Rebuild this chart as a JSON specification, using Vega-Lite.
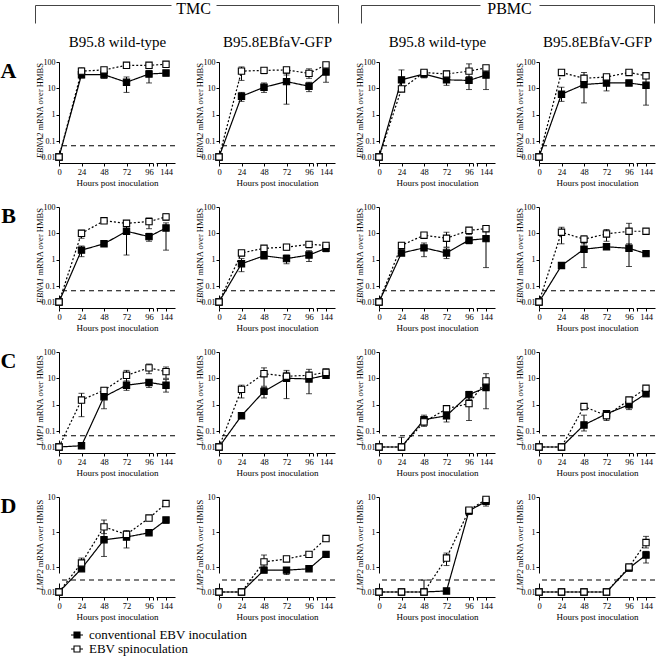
{
"$schema": "https://vega.github.io/schema/vega-lite/v6.json",
"padding": 0,
"data": {"values": [
{"p":"A1","s":"conventional EBV inoculation","h":0,"v":0.01},
{"p":"A1","s":"conventional EBV inoculation","h":24,"v":33,"lo":25,"hi":42},
{"p":"A1","s":"conventional EBV inoculation","h":48,"v":33,"lo":24,"hi":45},
{"p":"A1","s":"conventional EBV inoculation","h":72,"v":17,"lo":7,"hi":27},
{"p":"A1","s":"conventional EBV inoculation","h":96,"v":35,"lo":16,"hi":48},
{"p":"A1","s":"conventional EBV inoculation","h":144,"v":38,"lo":30,"hi":48},
{"p":"A1","s":"EBV spinoculation","h":0,"v":0.01},
{"p":"A1","s":"EBV spinoculation","h":24,"v":45,"lo":35,"hi":60},
{"p":"A1","s":"EBV spinoculation","h":48,"v":50,"lo":42,"hi":58},
{"p":"A1","s":"EBV spinoculation","h":72,"v":75,"lo":62,"hi":90},
{"p":"A1","s":"EBV spinoculation","h":96,"v":75,"lo":60,"hi":88},
{"p":"A1","s":"EBV spinoculation","h":144,"v":82},
{"p":"A2","s":"conventional EBV inoculation","h":0,"v":0.01},
{"p":"A2","s":"conventional EBV inoculation","h":24,"v":5,"lo":3.2,"hi":7},
{"p":"A2","s":"conventional EBV inoculation","h":48,"v":11,"lo":7,"hi":16},
{"p":"A2","s":"conventional EBV inoculation","h":72,"v":18,"lo":2.5,"hi":38},
{"p":"A2","s":"conventional EBV inoculation","h":96,"v":12,"lo":7.5,"hi":17},
{"p":"A2","s":"conventional EBV inoculation","h":144,"v":42,"lo":17,"hi":62},
{"p":"A2","s":"EBV spinoculation","h":0,"v":0.01},
{"p":"A2","s":"EBV spinoculation","h":24,"v":45,"lo":20,"hi":65},
{"p":"A2","s":"EBV spinoculation","h":48,"v":48,"lo":36,"hi":56},
{"p":"A2","s":"EBV spinoculation","h":72,"v":50,"lo":32,"hi":62},
{"p":"A2","s":"EBV spinoculation","h":96,"v":37,"lo":24,"hi":55},
{"p":"A2","s":"EBV spinoculation","h":144,"v":78},
{"p":"A3","s":"conventional EBV inoculation","h":0,"v":0.01},
{"p":"A3","s":"conventional EBV inoculation","h":24,"v":21,"lo":10,"hi":50},
{"p":"A3","s":"conventional EBV inoculation","h":48,"v":35,"lo":25,"hi":45},
{"p":"A3","s":"conventional EBV inoculation","h":72,"v":21,"lo":13,"hi":28},
{"p":"A3","s":"conventional EBV inoculation","h":96,"v":20,"lo":9,"hi":28},
{"p":"A3","s":"conventional EBV inoculation","h":144,"v":32,"lo":9,"hi":55},
{"p":"A3","s":"EBV spinoculation","h":0,"v":0.01},
{"p":"A3","s":"EBV spinoculation","h":24,"v":9.5},
{"p":"A3","s":"EBV spinoculation","h":48,"v":40,"lo":30,"hi":45},
{"p":"A3","s":"EBV spinoculation","h":72,"v":35,"lo":28,"hi":45},
{"p":"A3","s":"EBV spinoculation","h":96,"v":45,"lo":20,"hi":85},
{"p":"A3","s":"EBV spinoculation","h":144,"v":60},
{"p":"A4","s":"conventional EBV inoculation","h":0,"v":0.01},
{"p":"A4","s":"conventional EBV inoculation","h":24,"v":6,"lo":3.2,"hi":11},
{"p":"A4","s":"conventional EBV inoculation","h":48,"v":14,"lo":2.8,"hi":40},
{"p":"A4","s":"conventional EBV inoculation","h":72,"v":16,"lo":8,"hi":24},
{"p":"A4","s":"conventional EBV inoculation","h":96,"v":16},
{"p":"A4","s":"conventional EBV inoculation","h":144,"v":13,"lo":2.3,"hi":24},
{"p":"A4","s":"EBV spinoculation","h":0,"v":0.01},
{"p":"A4","s":"EBV spinoculation","h":24,"v":40},
{"p":"A4","s":"EBV spinoculation","h":48,"v":24,"lo":15,"hi":30},
{"p":"A4","s":"EBV spinoculation","h":72,"v":27,"lo":20,"hi":32},
{"p":"A4","s":"EBV spinoculation","h":96,"v":40},
{"p":"A4","s":"EBV spinoculation","h":144,"v":30},
{"p":"B1","s":"conventional EBV inoculation","h":0,"v":0.01},
{"p":"B1","s":"conventional EBV inoculation","h":24,"v":2.3,"lo":1.3,"hi":3.3},
{"p":"B1","s":"conventional EBV inoculation","h":48,"v":4},
{"p":"B1","s":"conventional EBV inoculation","h":72,"v":12,"lo":1.5,"hi":20},
{"p":"B1","s":"conventional EBV inoculation","h":96,"v":7.5,"lo":5,"hi":10},
{"p":"B1","s":"conventional EBV inoculation","h":144,"v":16,"lo":2.3,"hi":25},
{"p":"B1","s":"EBV spinoculation","h":0,"v":0.01},
{"p":"B1","s":"EBV spinoculation","h":24,"v":10,"lo":6.5,"hi":13},
{"p":"B1","s":"EBV spinoculation","h":48,"v":30},
{"p":"B1","s":"EBV spinoculation","h":72,"v":24},
{"p":"B1","s":"EBV spinoculation","h":96,"v":28,"lo":15,"hi":38},
{"p":"B1","s":"EBV spinoculation","h":144,"v":42,"lo":32,"hi":55},
{"p":"B2","s":"conventional EBV inoculation","h":0,"v":0.01},
{"p":"B2","s":"conventional EBV inoculation","h":24,"v":0.7,"lo":0.35,"hi":1.1},
{"p":"B2","s":"conventional EBV inoculation","h":48,"v":1.4,"lo":1.1,"hi":1.8},
{"p":"B2","s":"conventional EBV inoculation","h":72,"v":1.1,"lo":0.7,"hi":1.5},
{"p":"B2","s":"conventional EBV inoculation","h":96,"v":1.5,"lo":0.85,"hi":2.2},
{"p":"B2","s":"conventional EBV inoculation","h":144,"v":2.7,"lo":2,"hi":3.5},
{"p":"B2","s":"EBV spinoculation","h":0,"v":0.01},
{"p":"B2","s":"EBV spinoculation","h":24,"v":1.8,"lo":1.4,"hi":2.2},
{"p":"B2","s":"EBV spinoculation","h":48,"v":2.7,"lo":2.3,"hi":3.2},
{"p":"B2","s":"EBV spinoculation","h":72,"v":3,"lo":2.3,"hi":3.8},
{"p":"B2","s":"EBV spinoculation","h":96,"v":3.8,"lo":2.8,"hi":4.8},
{"p":"B2","s":"EBV spinoculation","h":144,"v":3.5,"lo":3,"hi":4.2},
{"p":"B3","s":"conventional EBV inoculation","h":0,"v":0.01},
{"p":"B3","s":"conventional EBV inoculation","h":24,"v":1.8},
{"p":"B3","s":"conventional EBV inoculation","h":48,"v":2.8,"lo":1.3,"hi":4.3},
{"p":"B3","s":"conventional EBV inoculation","h":72,"v":1.8,"lo":1.1,"hi":2.8},
{"p":"B3","s":"conventional EBV inoculation","h":96,"v":5.5,"lo":4,"hi":7},
{"p":"B3","s":"conventional EBV inoculation","h":144,"v":6.3,"lo":0.5,"hi":12},
{"p":"B3","s":"EBV spinoculation","h":0,"v":0.01},
{"p":"B3","s":"EBV spinoculation","h":24,"v":3.5,"lo":2.6,"hi":4.5},
{"p":"B3","s":"EBV spinoculation","h":48,"v":8.5,"lo":6.5,"hi":10},
{"p":"B3","s":"EBV spinoculation","h":72,"v":6.5,"lo":3,"hi":11},
{"p":"B3","s":"EBV spinoculation","h":96,"v":13,"lo":9,"hi":16},
{"p":"B3","s":"EBV spinoculation","h":144,"v":15},
{"p":"B4","s":"conventional EBV inoculation","h":0,"v":0.01},
{"p":"B4","s":"conventional EBV inoculation","h":24,"v":0.6},
{"p":"B4","s":"conventional EBV inoculation","h":48,"v":2.5,"lo":0.5,"hi":5},
{"p":"B4","s":"conventional EBV inoculation","h":72,"v":3.1,"lo":2.5,"hi":3.6},
{"p":"B4","s":"conventional EBV inoculation","h":96,"v":2.7,"lo":0.55,"hi":4},
{"p":"B4","s":"conventional EBV inoculation","h":144,"v":1.7},
{"p":"B4","s":"EBV spinoculation","h":0,"v":0.01},
{"p":"B4","s":"EBV spinoculation","h":24,"v":11,"lo":4,"hi":17},
{"p":"B4","s":"EBV spinoculation","h":48,"v":6,"lo":4,"hi":8},
{"p":"B4","s":"EBV spinoculation","h":72,"v":9.5,"lo":5,"hi":14},
{"p":"B4","s":"EBV spinoculation","h":96,"v":12,"lo":3,"hi":24},
{"p":"B4","s":"EBV spinoculation","h":144,"v":12},
{"p":"C1","s":"conventional EBV inoculation","h":0,"v":0.01},
{"p":"C1","s":"conventional EBV inoculation","h":24,"v":0.012},
{"p":"C1","s":"conventional EBV inoculation","h":48,"v":2,"lo":0.7,"hi":3},
{"p":"C1","s":"conventional EBV inoculation","h":72,"v":5.5,"lo":3.5,"hi":8},
{"p":"C1","s":"conventional EBV inoculation","h":96,"v":7,"lo":4.5,"hi":9},
{"p":"C1","s":"conventional EBV inoculation","h":144,"v":5.5,"lo":3,"hi":9},
{"p":"C1","s":"EBV spinoculation","h":0,"v":0.01},
{"p":"C1","s":"EBV spinoculation","h":24,"v":1.5,"lo":0.35,"hi":2.7},
{"p":"C1","s":"EBV spinoculation","h":48,"v":3.5,"lo":2.5,"hi":4.5},
{"p":"C1","s":"EBV spinoculation","h":72,"v":13,"lo":7,"hi":20},
{"p":"C1","s":"EBV spinoculation","h":96,"v":25,"lo":15,"hi":35},
{"p":"C1","s":"EBV spinoculation","h":144,"v":18,"lo":10,"hi":27},
{"p":"C2","s":"conventional EBV inoculation","h":0,"v":0.01},
{"p":"C2","s":"conventional EBV inoculation","h":24,"v":0.38},
{"p":"C2","s":"conventional EBV inoculation","h":48,"v":3.2,"lo":1.8,"hi":4.5},
{"p":"C2","s":"conventional EBV inoculation","h":72,"v":10,"lo":1.7,"hi":17},
{"p":"C2","s":"conventional EBV inoculation","h":96,"v":9.5,"lo":2.6,"hi":15},
{"p":"C2","s":"conventional EBV inoculation","h":144,"v":13,"lo":11,"hi":16},
{"p":"C2","s":"EBV spinoculation","h":0,"v":0.01},
{"p":"C2","s":"EBV spinoculation","h":24,"v":3.8,"lo":1.8,"hi":5.5},
{"p":"C2","s":"EBV spinoculation","h":48,"v":15,"lo":5,"hi":25},
{"p":"C2","s":"EBV spinoculation","h":72,"v":12,"lo":8,"hi":20},
{"p":"C2","s":"EBV spinoculation","h":96,"v":13,"lo":10,"hi":22},
{"p":"C2","s":"EBV spinoculation","h":144,"v":17,"lo":14,"hi":23},
{"p":"C3","s":"conventional EBV inoculation","h":0,"v":0.01},
{"p":"C3","s":"conventional EBV inoculation","h":24,"v":0.01},
{"p":"C3","s":"conventional EBV inoculation","h":48,"v":0.27,"lo":0.18,"hi":0.35},
{"p":"C3","s":"conventional EBV inoculation","h":72,"v":0.38,"lo":0.22,"hi":0.5},
{"p":"C3","s":"conventional EBV inoculation","h":96,"v":2.4,"lo":1.6,"hi":3.2},
{"p":"C3","s":"conventional EBV inoculation","h":144,"v":4.5,"lo":0.7,"hi":10},
{"p":"C3","s":"EBV spinoculation","h":0,"v":0.01},
{"p":"C3","s":"EBV spinoculation","h":24,"v":0.01,"lo":0.01,"hi":0.04},
{"p":"C3","s":"EBV spinoculation","h":48,"v":0.22,"lo":0.15,"hi":0.4},
{"p":"C3","s":"EBV spinoculation","h":72,"v":0.7},
{"p":"C3","s":"EBV spinoculation","h":96,"v":1.1,"lo":0.25,"hi":2.5},
{"p":"C3","s":"EBV spinoculation","h":144,"v":8,"lo":5,"hi":15},
{"p":"C4","s":"conventional EBV inoculation","h":0,"v":0.01},
{"p":"C4","s":"conventional EBV inoculation","h":24,"v":0.01},
{"p":"C4","s":"conventional EBV inoculation","h":48,"v":0.17,"lo":0.1,"hi":0.4},
{"p":"C4","s":"conventional EBV inoculation","h":72,"v":0.45,"lo":0.3,"hi":0.55},
{"p":"C4","s":"conventional EBV inoculation","h":96,"v":1,"lo":0.65,"hi":1.4},
{"p":"C4","s":"conventional EBV inoculation","h":144,"v":2.6},
{"p":"C4","s":"EBV spinoculation","h":0,"v":0.01},
{"p":"C4","s":"EBV spinoculation","h":24,"v":0.01},
{"p":"C4","s":"EBV spinoculation","h":48,"v":0.85},
{"p":"C4","s":"EBV spinoculation","h":72,"v":0.38,"lo":0.25,"hi":0.5},
{"p":"C4","s":"EBV spinoculation","h":96,"v":1.5},
{"p":"C4","s":"EBV spinoculation","h":144,"v":4.2},
{"p":"D1","s":"conventional EBV inoculation","h":0,"v":0.01},
{"p":"D1","s":"conventional EBV inoculation","h":24,"v":0.085,"lo":0.07,"hi":0.1},
{"p":"D1","s":"conventional EBV inoculation","h":48,"v":0.6,"lo":0.2,"hi":1.3},
{"p":"D1","s":"conventional EBV inoculation","h":72,"v":0.72,"lo":0.35,"hi":1},
{"p":"D1","s":"conventional EBV inoculation","h":96,"v":0.95},
{"p":"D1","s":"conventional EBV inoculation","h":144,"v":2.2,"lo":1.8,"hi":2.6},
{"p":"D1","s":"EBV spinoculation","h":0,"v":0.01},
{"p":"D1","s":"EBV spinoculation","h":24,"v":0.13,"lo":0.09,"hi":0.18},
{"p":"D1","s":"EBV spinoculation","h":48,"v":1.4,"lo":0.9,"hi":2.2},
{"p":"D1","s":"EBV spinoculation","h":72,"v":0.85,"lo":0.7,"hi":1.1},
{"p":"D1","s":"EBV spinoculation","h":96,"v":2.5},
{"p":"D1","s":"EBV spinoculation","h":144,"v":6.5,"lo":5.5,"hi":7.5},
{"p":"D2","s":"conventional EBV inoculation","h":0,"v":0.01},
{"p":"D2","s":"conventional EBV inoculation","h":24,"v":0.01},
{"p":"D2","s":"conventional EBV inoculation","h":48,"v":0.075,"lo":0.06,"hi":0.09},
{"p":"D2","s":"conventional EBV inoculation","h":72,"v":0.075,"lo":0.05,"hi":0.09},
{"p":"D2","s":"conventional EBV inoculation","h":96,"v":0.085},
{"p":"D2","s":"conventional EBV inoculation","h":144,"v":0.23,"lo":0.2,"hi":0.27},
{"p":"D2","s":"EBV spinoculation","h":0,"v":0.01},
{"p":"D2","s":"EBV spinoculation","h":24,"v":0.01},
{"p":"D2","s":"EBV spinoculation","h":48,"v":0.14,"lo":0.1,"hi":0.22},
{"p":"D2","s":"EBV spinoculation","h":72,"v":0.17},
{"p":"D2","s":"EBV spinoculation","h":96,"v":0.23},
{"p":"D2","s":"EBV spinoculation","h":144,"v":0.65,"lo":0.55,"hi":0.75},
{"p":"D3","s":"conventional EBV inoculation","h":0,"v":0.01},
{"p":"D3","s":"conventional EBV inoculation","h":24,"v":0.01},
{"p":"D3","s":"conventional EBV inoculation","h":48,"v":0.01},
{"p":"D3","s":"conventional EBV inoculation","h":72,"v":0.011},
{"p":"D3","s":"conventional EBV inoculation","h":96,"v":4,"lo":3.2,"hi":5},
{"p":"D3","s":"conventional EBV inoculation","h":144,"v":7.5,"lo":5.5,"hi":9},
{"p":"D3","s":"EBV spinoculation","h":0,"v":0.01},
{"p":"D3","s":"EBV spinoculation","h":24,"v":0.01},
{"p":"D3","s":"EBV spinoculation","h":48,"v":0.01,"lo":0.01,"hi":0.03},
{"p":"D3","s":"EBV spinoculation","h":72,"v":0.18,"lo":0.11,"hi":0.25},
{"p":"D3","s":"EBV spinoculation","h":96,"v":4.2},
{"p":"D3","s":"EBV spinoculation","h":144,"v":8.5},
{"p":"D4","s":"conventional EBV inoculation","h":0,"v":0.01},
{"p":"D4","s":"conventional EBV inoculation","h":24,"v":0.01},
{"p":"D4","s":"conventional EBV inoculation","h":48,"v":0.01},
{"p":"D4","s":"conventional EBV inoculation","h":72,"v":0.01},
{"p":"D4","s":"conventional EBV inoculation","h":96,"v":0.09,"lo":0.07,"hi":0.11},
{"p":"D4","s":"conventional EBV inoculation","h":144,"v":0.22,"lo":0.13,"hi":0.28},
{"p":"D4","s":"EBV spinoculation","h":0,"v":0.01},
{"p":"D4","s":"EBV spinoculation","h":24,"v":0.01},
{"p":"D4","s":"EBV spinoculation","h":48,"v":0.01},
{"p":"D4","s":"EBV spinoculation","h":72,"v":0.01},
{"p":"D4","s":"EBV spinoculation","h":96,"v":0.1},
{"p":"D4","s":"EBV spinoculation","h":144,"v":0.5,"lo":0.35,"hi":0.75}
]},
"columns": 4,
"spacing": {"row": 44, "column": 44},
"bounds": "flush",
"resolve": {"legend": {"fill": "independent"}},
"concat": [
{"width":116,"height":101,"transform":[{"filter":"datum.p == 'A1'"}],"resolve":{"scale":{"x":"independent","y":"independent"}},"layer":[
{"transform":[{"aggregate":[{"op":"count","as":"n"}]}],"mark":{"type":"rule","strokeDash":[5,4],"strokeWidth":1.1,"color":"black"},"encoding":{"y":{"datum":0.05,"type":"quantitative","scale":{"type":"log","domain":[0.006,0.01,0.1,100],"range":[101,95,79,0],"nice":false},"axis":null}}},
{"transform":[{"filter":"isValid(datum.lo)"}],"mark":{"type":"errorbar","color":"black","thickness":1,"ticks":{"size":6}},"encoding":{"x":{"field":"h","type":"quantitative","scale":{"type":"linear","domain":[0,96,144,169],"range":[0,90,107,116],"nice":false,"zero":false},"axis":null},"y":{"field":"lo","type":"quantitative","scale":{"type":"log","domain":[0.006,0.01,0.1,100],"range":[101,95,79,0],"nice":false},"axis":null},"y2":{"field":"hi"}}},
{"mark":{"type":"line","color":"black","strokeWidth":1.2},"encoding":{"x":{"field":"h","type":"quantitative","scale":{"type":"linear","domain":[0,96,144,169],"range":[0,90,107,116],"nice":false,"zero":false},"axis":null},"y":{"field":"v","type":"quantitative","scale":{"type":"log","domain":[0.006,0.01,0.1,100],"range":[101,95,79,0],"nice":false},"axis":null},"strokeDash":{"field":"s","type":"nominal","scale":{"domain":["conventional EBV inoculation","EBV spinoculation"],"range":[[1,0],[2,2]]},"legend":null}}},
{"mark":{"type":"point","shape":"square","size":40,"stroke":"black","strokeWidth":1.1,"opacity":1,"filled":true},"encoding":{"x":{"field":"h","type":"quantitative","scale":{"type":"linear","domain":[0,96,144,169],"range":[0,90,107,116],"nice":false,"zero":false},"axis":{"orient":"bottom","title":"Hours post inoculation","values":[0,24,48,72,96,107,119,144],"labelExpr":"datum.value == 107 || datum.value == 119 ? '' : datum.label","domainDash":[94,3,60],"tickSize":3,"labelFontSize":8.5,"labelPadding":1,"titleFontSize":9,"titlePadding":3,"labelFlush":false,"labelOverlap":false}},"y":{"field":"v","type":"quantitative","scale":{"type":"log","domain":[0.006,0.01,0.1,100],"range":[101,95,79,0],"nice":false},"axis":{"orient":"left","title":"mRNA over HMBS","titleX":-20,"titleY":68.1,"titleAngle":270,"titleAlign":"left","titleBaseline":"middle","values":[0.01,0.1,1,10,100],"labelExpr":"toString(datum.value)","domainDash":[13,7,200],"tickSize":3,"labelFontSize":8,"labelPadding":1,"titleFontSize":8.5,"labelOverlap":false,"labelFlush":false}},"fill":{"field":"s","type":"nominal","scale":{"domain":["conventional EBV inoculation","EBV spinoculation"],"range":["black","white"]},"legend":null}}},
{"transform":[{"aggregate":[{"op":"count","as":"n"}]}],"mark":{"type":"point","opacity":0},"encoding":{"x":{"datum":0,"type":"quantitative","scale":{"domain":[0,303],"range":[-24,279],"nice":false,"zero":false},"axis":{"orient":"bottom","offset":-158,"values":[0,82,242,303],"domainColor":"#444","domainDash":[136,45,400],"tickSize":18,"tickColor":{"condition":{"test":"datum.value == 0 || datum.value == 303","value":"#444"},"value":"transparent"},"labelExpr":"datum.value == 82 ? 'B95.8 wild-type' : datum.value == 242 ? 'B95.8EBfaV-GFP' : ''","labelFontSize":15,"labelPadding":11,"labelFlush":false,"labelOverlap":false,"labelBound":false,"title":"TMC","titleFontSize":16,"titleX":134,"titleY":3,"titleBaseline":"middle","titleAlign":"center","titleAngle":0}},"y":{"datum":0.5,"type":"quantitative","scale":{"domain":[0,1]},"axis":{"orient":"left","domain":false,"ticks":false,"labels":false,"title":"A","titleAngle":0,"titleFontSize":22,"titleFontWeight":"bold","titleX":-51,"titleY":8,"titleAlign":"center","titleBaseline":"middle"}}}},
{"transform":[{"aggregate":[{"op":"count","as":"n"}]}],"mark":{"type":"point","opacity":0},"encoding":{"x":{"datum":0,"type":"quantitative","scale":{"domain":[0,1]},"axis":null},"y":{"datum":0.5,"type":"quantitative","scale":{"domain":[0,1]},"axis":{"orient":"left","domain":false,"ticks":false,"labels":false,"title":"EBNA2","titleFontStyle":"italic","titleFontSize":8.5,"titleAngle":270,"titleAlign":"left","titleBaseline":"middle","titleX":-20,"titleY":95.75}}}}
]},
{"width":116,"height":101,"transform":[{"filter":"datum.p == 'A2'"}],"resolve":{"scale":{"x":"independent","y":"independent"}},"layer":[
{"transform":[{"aggregate":[{"op":"count","as":"n"}]}],"mark":{"type":"rule","strokeDash":[5,4],"strokeWidth":1.1,"color":"black"},"encoding":{"y":{"datum":0.05,"type":"quantitative","scale":{"type":"log","domain":[0.006,0.01,0.1,100],"range":[101,95,79,0],"nice":false},"axis":null}}},
{"transform":[{"filter":"isValid(datum.lo)"}],"mark":{"type":"errorbar","color":"black","thickness":1,"ticks":{"size":6}},"encoding":{"x":{"field":"h","type":"quantitative","scale":{"type":"linear","domain":[0,96,144,169],"range":[0,90,107,116],"nice":false,"zero":false},"axis":null},"y":{"field":"lo","type":"quantitative","scale":{"type":"log","domain":[0.006,0.01,0.1,100],"range":[101,95,79,0],"nice":false},"axis":null},"y2":{"field":"hi"}}},
{"mark":{"type":"line","color":"black","strokeWidth":1.2},"encoding":{"x":{"field":"h","type":"quantitative","scale":{"type":"linear","domain":[0,96,144,169],"range":[0,90,107,116],"nice":false,"zero":false},"axis":null},"y":{"field":"v","type":"quantitative","scale":{"type":"log","domain":[0.006,0.01,0.1,100],"range":[101,95,79,0],"nice":false},"axis":null},"strokeDash":{"field":"s","type":"nominal","scale":{"domain":["conventional EBV inoculation","EBV spinoculation"],"range":[[1,0],[2,2]]},"legend":null}}},
{"mark":{"type":"point","shape":"square","size":40,"stroke":"black","strokeWidth":1.1,"opacity":1,"filled":true},"encoding":{"x":{"field":"h","type":"quantitative","scale":{"type":"linear","domain":[0,96,144,169],"range":[0,90,107,116],"nice":false,"zero":false},"axis":{"orient":"bottom","title":"Hours post inoculation","values":[0,24,48,72,96,107,119,144],"labelExpr":"datum.value == 107 || datum.value == 119 ? '' : datum.label","domainDash":[94,3,60],"tickSize":3,"labelFontSize":8.5,"labelPadding":1,"titleFontSize":9,"titlePadding":3,"labelFlush":false,"labelOverlap":false}},"y":{"field":"v","type":"quantitative","scale":{"type":"log","domain":[0.006,0.01,0.1,100],"range":[101,95,79,0],"nice":false},"axis":{"orient":"left","title":"mRNA over HMBS","titleX":-20,"titleY":68.1,"titleAngle":270,"titleAlign":"left","titleBaseline":"middle","values":[0.01,0.1,1,10,100],"labelExpr":"toString(datum.value)","domainDash":[13,7,200],"tickSize":3,"labelFontSize":8,"labelPadding":1,"titleFontSize":8.5,"labelOverlap":false,"labelFlush":false}},"fill":{"field":"s","type":"nominal","scale":{"domain":["conventional EBV inoculation","EBV spinoculation"],"range":["black","white"]},"legend":null}}},
{"transform":[{"aggregate":[{"op":"count","as":"n"}]}],"mark":{"type":"point","opacity":0},"encoding":{"x":{"datum":0,"type":"quantitative","scale":{"domain":[0,1]},"axis":null},"y":{"datum":0.5,"type":"quantitative","scale":{"domain":[0,1]},"axis":{"orient":"left","domain":false,"ticks":false,"labels":false,"title":"EBNA2","titleFontStyle":"italic","titleFontSize":8.5,"titleAngle":270,"titleAlign":"left","titleBaseline":"middle","titleX":-20,"titleY":95.75}}}}
]},
{"width":116,"height":101,"transform":[{"filter":"datum.p == 'A3'"}],"resolve":{"scale":{"x":"independent","y":"independent"}},"layer":[
{"transform":[{"aggregate":[{"op":"count","as":"n"}]}],"mark":{"type":"rule","strokeDash":[5,4],"strokeWidth":1.1,"color":"black"},"encoding":{"y":{"datum":0.05,"type":"quantitative","scale":{"type":"log","domain":[0.006,0.01,0.1,100],"range":[101,95,79,0],"nice":false},"axis":null}}},
{"transform":[{"filter":"isValid(datum.lo)"}],"mark":{"type":"errorbar","color":"black","thickness":1,"ticks":{"size":6}},"encoding":{"x":{"field":"h","type":"quantitative","scale":{"type":"linear","domain":[0,96,144,169],"range":[0,90,107,116],"nice":false,"zero":false},"axis":null},"y":{"field":"lo","type":"quantitative","scale":{"type":"log","domain":[0.006,0.01,0.1,100],"range":[101,95,79,0],"nice":false},"axis":null},"y2":{"field":"hi"}}},
{"mark":{"type":"line","color":"black","strokeWidth":1.2},"encoding":{"x":{"field":"h","type":"quantitative","scale":{"type":"linear","domain":[0,96,144,169],"range":[0,90,107,116],"nice":false,"zero":false},"axis":null},"y":{"field":"v","type":"quantitative","scale":{"type":"log","domain":[0.006,0.01,0.1,100],"range":[101,95,79,0],"nice":false},"axis":null},"strokeDash":{"field":"s","type":"nominal","scale":{"domain":["conventional EBV inoculation","EBV spinoculation"],"range":[[1,0],[2,2]]},"legend":null}}},
{"mark":{"type":"point","shape":"square","size":40,"stroke":"black","strokeWidth":1.1,"opacity":1,"filled":true},"encoding":{"x":{"field":"h","type":"quantitative","scale":{"type":"linear","domain":[0,96,144,169],"range":[0,90,107,116],"nice":false,"zero":false},"axis":{"orient":"bottom","title":"Hours post inoculation","values":[0,24,48,72,96,107,119,144],"labelExpr":"datum.value == 107 || datum.value == 119 ? '' : datum.label","domainDash":[94,3,60],"tickSize":3,"labelFontSize":8.5,"labelPadding":1,"titleFontSize":9,"titlePadding":3,"labelFlush":false,"labelOverlap":false}},"y":{"field":"v","type":"quantitative","scale":{"type":"log","domain":[0.006,0.01,0.1,100],"range":[101,95,79,0],"nice":false},"axis":{"orient":"left","title":"mRNA over HMBS","titleX":-20,"titleY":68.1,"titleAngle":270,"titleAlign":"left","titleBaseline":"middle","values":[0.01,0.1,1,10,100],"labelExpr":"toString(datum.value)","domainDash":[13,7,200],"tickSize":3,"labelFontSize":8,"labelPadding":1,"titleFontSize":8.5,"labelOverlap":false,"labelFlush":false}},"fill":{"field":"s","type":"nominal","scale":{"domain":["conventional EBV inoculation","EBV spinoculation"],"range":["black","white"]},"legend":null}}},
{"transform":[{"aggregate":[{"op":"count","as":"n"}]}],"mark":{"type":"point","opacity":0},"encoding":{"x":{"datum":0,"type":"quantitative","scale":{"domain":[0,293],"range":[-18,275],"nice":false,"zero":false},"axis":{"orient":"bottom","offset":-158,"values":[0,76,236,293],"domainColor":"#444","domainDash":[119,59,400],"tickSize":18,"tickColor":{"condition":{"test":"datum.value == 0 || datum.value == 293","value":"#444"},"value":"transparent"},"labelExpr":"datum.value == 76 ? 'B95.8 wild-type' : datum.value == 236 ? 'B95.8EBfaV-GFP' : ''","labelFontSize":15,"labelPadding":11,"labelFlush":false,"labelOverlap":false,"labelBound":false,"title":"PBMC","titleFontSize":16,"titleX":130,"titleY":3,"titleBaseline":"middle","titleAlign":"center","titleAngle":0}},"y":{"datum":0.5,"type":"quantitative","scale":{"domain":[0,1]},"axis":{"orient":"left","domain":false,"ticks":false,"labels":false,"title":"EBNA2","titleFontStyle":"italic","titleFontSize":8.5,"titleAngle":270,"titleAlign":"left","titleBaseline":"middle","titleX":-20,"titleY":95.75}}}}
]},
{"width":116,"height":101,"transform":[{"filter":"datum.p == 'A4'"}],"resolve":{"scale":{"x":"independent","y":"independent"}},"layer":[
{"transform":[{"aggregate":[{"op":"count","as":"n"}]}],"mark":{"type":"rule","strokeDash":[5,4],"strokeWidth":1.1,"color":"black"},"encoding":{"y":{"datum":0.05,"type":"quantitative","scale":{"type":"log","domain":[0.006,0.01,0.1,100],"range":[101,95,79,0],"nice":false},"axis":null}}},
{"transform":[{"filter":"isValid(datum.lo)"}],"mark":{"type":"errorbar","color":"black","thickness":1,"ticks":{"size":6}},"encoding":{"x":{"field":"h","type":"quantitative","scale":{"type":"linear","domain":[0,96,144,169],"range":[0,90,107,116],"nice":false,"zero":false},"axis":null},"y":{"field":"lo","type":"quantitative","scale":{"type":"log","domain":[0.006,0.01,0.1,100],"range":[101,95,79,0],"nice":false},"axis":null},"y2":{"field":"hi"}}},
{"mark":{"type":"line","color":"black","strokeWidth":1.2},"encoding":{"x":{"field":"h","type":"quantitative","scale":{"type":"linear","domain":[0,96,144,169],"range":[0,90,107,116],"nice":false,"zero":false},"axis":null},"y":{"field":"v","type":"quantitative","scale":{"type":"log","domain":[0.006,0.01,0.1,100],"range":[101,95,79,0],"nice":false},"axis":null},"strokeDash":{"field":"s","type":"nominal","scale":{"domain":["conventional EBV inoculation","EBV spinoculation"],"range":[[1,0],[2,2]]},"legend":null}}},
{"mark":{"type":"point","shape":"square","size":40,"stroke":"black","strokeWidth":1.1,"opacity":1,"filled":true},"encoding":{"x":{"field":"h","type":"quantitative","scale":{"type":"linear","domain":[0,96,144,169],"range":[0,90,107,116],"nice":false,"zero":false},"axis":{"orient":"bottom","title":"Hours post inoculation","values":[0,24,48,72,96,107,119,144],"labelExpr":"datum.value == 107 || datum.value == 119 ? '' : datum.label","domainDash":[94,3,60],"tickSize":3,"labelFontSize":8.5,"labelPadding":1,"titleFontSize":9,"titlePadding":3,"labelFlush":false,"labelOverlap":false}},"y":{"field":"v","type":"quantitative","scale":{"type":"log","domain":[0.006,0.01,0.1,100],"range":[101,95,79,0],"nice":false},"axis":{"orient":"left","title":"mRNA over HMBS","titleX":-20,"titleY":68.1,"titleAngle":270,"titleAlign":"left","titleBaseline":"middle","values":[0.01,0.1,1,10,100],"labelExpr":"toString(datum.value)","domainDash":[13,7,200],"tickSize":3,"labelFontSize":8,"labelPadding":1,"titleFontSize":8.5,"labelOverlap":false,"labelFlush":false}},"fill":{"field":"s","type":"nominal","scale":{"domain":["conventional EBV inoculation","EBV spinoculation"],"range":["black","white"]},"legend":null}}},
{"transform":[{"aggregate":[{"op":"count","as":"n"}]}],"mark":{"type":"point","opacity":0},"encoding":{"x":{"datum":0,"type":"quantitative","scale":{"domain":[0,1]},"axis":null},"y":{"datum":0.5,"type":"quantitative","scale":{"domain":[0,1]},"axis":{"orient":"left","domain":false,"ticks":false,"labels":false,"title":"EBNA2","titleFontStyle":"italic","titleFontSize":8.5,"titleAngle":270,"titleAlign":"left","titleBaseline":"middle","titleX":-20,"titleY":95.75}}}}
]},
{"width":116,"height":101,"transform":[{"filter":"datum.p == 'B1'"}],"resolve":{"scale":{"x":"independent","y":"independent"}},"layer":[
{"transform":[{"aggregate":[{"op":"count","as":"n"}]}],"mark":{"type":"rule","strokeDash":[5,4],"strokeWidth":1.1,"color":"black"},"encoding":{"y":{"datum":0.05,"type":"quantitative","scale":{"type":"log","domain":[0.006,0.01,0.1,100],"range":[101,95,79,0],"nice":false},"axis":null}}},
{"transform":[{"filter":"isValid(datum.lo)"}],"mark":{"type":"errorbar","color":"black","thickness":1,"ticks":{"size":6}},"encoding":{"x":{"field":"h","type":"quantitative","scale":{"type":"linear","domain":[0,96,144,169],"range":[0,90,107,116],"nice":false,"zero":false},"axis":null},"y":{"field":"lo","type":"quantitative","scale":{"type":"log","domain":[0.006,0.01,0.1,100],"range":[101,95,79,0],"nice":false},"axis":null},"y2":{"field":"hi"}}},
{"mark":{"type":"line","color":"black","strokeWidth":1.2},"encoding":{"x":{"field":"h","type":"quantitative","scale":{"type":"linear","domain":[0,96,144,169],"range":[0,90,107,116],"nice":false,"zero":false},"axis":null},"y":{"field":"v","type":"quantitative","scale":{"type":"log","domain":[0.006,0.01,0.1,100],"range":[101,95,79,0],"nice":false},"axis":null},"strokeDash":{"field":"s","type":"nominal","scale":{"domain":["conventional EBV inoculation","EBV spinoculation"],"range":[[1,0],[2,2]]},"legend":null}}},
{"mark":{"type":"point","shape":"square","size":40,"stroke":"black","strokeWidth":1.1,"opacity":1,"filled":true},"encoding":{"x":{"field":"h","type":"quantitative","scale":{"type":"linear","domain":[0,96,144,169],"range":[0,90,107,116],"nice":false,"zero":false},"axis":{"orient":"bottom","title":"Hours post inoculation","values":[0,24,48,72,96,107,119,144],"labelExpr":"datum.value == 107 || datum.value == 119 ? '' : datum.label","domainDash":[94,3,60],"tickSize":3,"labelFontSize":8.5,"labelPadding":1,"titleFontSize":9,"titlePadding":3,"labelFlush":false,"labelOverlap":false}},"y":{"field":"v","type":"quantitative","scale":{"type":"log","domain":[0.006,0.01,0.1,100],"range":[101,95,79,0],"nice":false},"axis":{"orient":"left","title":"mRNA over HMBS","titleX":-20,"titleY":68.1,"titleAngle":270,"titleAlign":"left","titleBaseline":"middle","values":[0.01,0.1,1,10,100],"labelExpr":"toString(datum.value)","domainDash":[13,7,200],"tickSize":3,"labelFontSize":8,"labelPadding":1,"titleFontSize":8.5,"labelOverlap":false,"labelFlush":false}},"fill":{"field":"s","type":"nominal","scale":{"domain":["conventional EBV inoculation","EBV spinoculation"],"range":["black","white"]},"legend":null}}},
{"transform":[{"aggregate":[{"op":"count","as":"n"}]}],"mark":{"type":"point","opacity":0},"encoding":{"x":{"datum":0,"type":"quantitative","scale":{"domain":[0,1]},"axis":{"orient":"top","domain":false,"ticks":false,"labels":false,"title":"EBNA1","titleFontStyle":"italic","titleFontSize":8.5,"titleAngle":270,"titleAlign":"left","titleBaseline":"middle","titleX":-20,"titleY":95.75}},"y":{"datum":0.5,"type":"quantitative","scale":{"domain":[0,1]},"axis":{"orient":"left","domain":false,"ticks":false,"labels":false,"title":"B","titleAngle":0,"titleFontSize":22,"titleFontWeight":"bold","titleX":-51,"titleY":8,"titleAlign":"center","titleBaseline":"middle"}}}}
]},
{"width":116,"height":101,"transform":[{"filter":"datum.p == 'B2'"}],"resolve":{"scale":{"x":"independent","y":"independent"}},"layer":[
{"transform":[{"aggregate":[{"op":"count","as":"n"}]}],"mark":{"type":"rule","strokeDash":[5,4],"strokeWidth":1.1,"color":"black"},"encoding":{"y":{"datum":0.05,"type":"quantitative","scale":{"type":"log","domain":[0.006,0.01,0.1,100],"range":[101,95,79,0],"nice":false},"axis":null}}},
{"transform":[{"filter":"isValid(datum.lo)"}],"mark":{"type":"errorbar","color":"black","thickness":1,"ticks":{"size":6}},"encoding":{"x":{"field":"h","type":"quantitative","scale":{"type":"linear","domain":[0,96,144,169],"range":[0,90,107,116],"nice":false,"zero":false},"axis":null},"y":{"field":"lo","type":"quantitative","scale":{"type":"log","domain":[0.006,0.01,0.1,100],"range":[101,95,79,0],"nice":false},"axis":null},"y2":{"field":"hi"}}},
{"mark":{"type":"line","color":"black","strokeWidth":1.2},"encoding":{"x":{"field":"h","type":"quantitative","scale":{"type":"linear","domain":[0,96,144,169],"range":[0,90,107,116],"nice":false,"zero":false},"axis":null},"y":{"field":"v","type":"quantitative","scale":{"type":"log","domain":[0.006,0.01,0.1,100],"range":[101,95,79,0],"nice":false},"axis":null},"strokeDash":{"field":"s","type":"nominal","scale":{"domain":["conventional EBV inoculation","EBV spinoculation"],"range":[[1,0],[2,2]]},"legend":null}}},
{"mark":{"type":"point","shape":"square","size":40,"stroke":"black","strokeWidth":1.1,"opacity":1,"filled":true},"encoding":{"x":{"field":"h","type":"quantitative","scale":{"type":"linear","domain":[0,96,144,169],"range":[0,90,107,116],"nice":false,"zero":false},"axis":{"orient":"bottom","title":"Hours post inoculation","values":[0,24,48,72,96,107,119,144],"labelExpr":"datum.value == 107 || datum.value == 119 ? '' : datum.label","domainDash":[94,3,60],"tickSize":3,"labelFontSize":8.5,"labelPadding":1,"titleFontSize":9,"titlePadding":3,"labelFlush":false,"labelOverlap":false}},"y":{"field":"v","type":"quantitative","scale":{"type":"log","domain":[0.006,0.01,0.1,100],"range":[101,95,79,0],"nice":false},"axis":{"orient":"left","title":"mRNA over HMBS","titleX":-20,"titleY":68.1,"titleAngle":270,"titleAlign":"left","titleBaseline":"middle","values":[0.01,0.1,1,10,100],"labelExpr":"toString(datum.value)","domainDash":[13,7,200],"tickSize":3,"labelFontSize":8,"labelPadding":1,"titleFontSize":8.5,"labelOverlap":false,"labelFlush":false}},"fill":{"field":"s","type":"nominal","scale":{"domain":["conventional EBV inoculation","EBV spinoculation"],"range":["black","white"]},"legend":null}}},
{"transform":[{"aggregate":[{"op":"count","as":"n"}]}],"mark":{"type":"point","opacity":0},"encoding":{"x":{"datum":0,"type":"quantitative","scale":{"domain":[0,1]},"axis":null},"y":{"datum":0.5,"type":"quantitative","scale":{"domain":[0,1]},"axis":{"orient":"left","domain":false,"ticks":false,"labels":false,"title":"EBNA1","titleFontStyle":"italic","titleFontSize":8.5,"titleAngle":270,"titleAlign":"left","titleBaseline":"middle","titleX":-20,"titleY":95.75}}}}
]},
{"width":116,"height":101,"transform":[{"filter":"datum.p == 'B3'"}],"resolve":{"scale":{"x":"independent","y":"independent"}},"layer":[
{"transform":[{"aggregate":[{"op":"count","as":"n"}]}],"mark":{"type":"rule","strokeDash":[5,4],"strokeWidth":1.1,"color":"black"},"encoding":{"y":{"datum":0.05,"type":"quantitative","scale":{"type":"log","domain":[0.006,0.01,0.1,100],"range":[101,95,79,0],"nice":false},"axis":null}}},
{"transform":[{"filter":"isValid(datum.lo)"}],"mark":{"type":"errorbar","color":"black","thickness":1,"ticks":{"size":6}},"encoding":{"x":{"field":"h","type":"quantitative","scale":{"type":"linear","domain":[0,96,144,169],"range":[0,90,107,116],"nice":false,"zero":false},"axis":null},"y":{"field":"lo","type":"quantitative","scale":{"type":"log","domain":[0.006,0.01,0.1,100],"range":[101,95,79,0],"nice":false},"axis":null},"y2":{"field":"hi"}}},
{"mark":{"type":"line","color":"black","strokeWidth":1.2},"encoding":{"x":{"field":"h","type":"quantitative","scale":{"type":"linear","domain":[0,96,144,169],"range":[0,90,107,116],"nice":false,"zero":false},"axis":null},"y":{"field":"v","type":"quantitative","scale":{"type":"log","domain":[0.006,0.01,0.1,100],"range":[101,95,79,0],"nice":false},"axis":null},"strokeDash":{"field":"s","type":"nominal","scale":{"domain":["conventional EBV inoculation","EBV spinoculation"],"range":[[1,0],[2,2]]},"legend":null}}},
{"mark":{"type":"point","shape":"square","size":40,"stroke":"black","strokeWidth":1.1,"opacity":1,"filled":true},"encoding":{"x":{"field":"h","type":"quantitative","scale":{"type":"linear","domain":[0,96,144,169],"range":[0,90,107,116],"nice":false,"zero":false},"axis":{"orient":"bottom","title":"Hours post inoculation","values":[0,24,48,72,96,107,119,144],"labelExpr":"datum.value == 107 || datum.value == 119 ? '' : datum.label","domainDash":[94,3,60],"tickSize":3,"labelFontSize":8.5,"labelPadding":1,"titleFontSize":9,"titlePadding":3,"labelFlush":false,"labelOverlap":false}},"y":{"field":"v","type":"quantitative","scale":{"type":"log","domain":[0.006,0.01,0.1,100],"range":[101,95,79,0],"nice":false},"axis":{"orient":"left","title":"mRNA over HMBS","titleX":-20,"titleY":68.1,"titleAngle":270,"titleAlign":"left","titleBaseline":"middle","values":[0.01,0.1,1,10,100],"labelExpr":"toString(datum.value)","domainDash":[13,7,200],"tickSize":3,"labelFontSize":8,"labelPadding":1,"titleFontSize":8.5,"labelOverlap":false,"labelFlush":false}},"fill":{"field":"s","type":"nominal","scale":{"domain":["conventional EBV inoculation","EBV spinoculation"],"range":["black","white"]},"legend":null}}},
{"transform":[{"aggregate":[{"op":"count","as":"n"}]}],"mark":{"type":"point","opacity":0},"encoding":{"x":{"datum":0,"type":"quantitative","scale":{"domain":[0,1]},"axis":null},"y":{"datum":0.5,"type":"quantitative","scale":{"domain":[0,1]},"axis":{"orient":"left","domain":false,"ticks":false,"labels":false,"title":"EBNA1","titleFontStyle":"italic","titleFontSize":8.5,"titleAngle":270,"titleAlign":"left","titleBaseline":"middle","titleX":-20,"titleY":95.75}}}}
]},
{"width":116,"height":101,"transform":[{"filter":"datum.p == 'B4'"}],"resolve":{"scale":{"x":"independent","y":"independent"}},"layer":[
{"transform":[{"aggregate":[{"op":"count","as":"n"}]}],"mark":{"type":"rule","strokeDash":[5,4],"strokeWidth":1.1,"color":"black"},"encoding":{"y":{"datum":0.05,"type":"quantitative","scale":{"type":"log","domain":[0.006,0.01,0.1,100],"range":[101,95,79,0],"nice":false},"axis":null}}},
{"transform":[{"filter":"isValid(datum.lo)"}],"mark":{"type":"errorbar","color":"black","thickness":1,"ticks":{"size":6}},"encoding":{"x":{"field":"h","type":"quantitative","scale":{"type":"linear","domain":[0,96,144,169],"range":[0,90,107,116],"nice":false,"zero":false},"axis":null},"y":{"field":"lo","type":"quantitative","scale":{"type":"log","domain":[0.006,0.01,0.1,100],"range":[101,95,79,0],"nice":false},"axis":null},"y2":{"field":"hi"}}},
{"mark":{"type":"line","color":"black","strokeWidth":1.2},"encoding":{"x":{"field":"h","type":"quantitative","scale":{"type":"linear","domain":[0,96,144,169],"range":[0,90,107,116],"nice":false,"zero":false},"axis":null},"y":{"field":"v","type":"quantitative","scale":{"type":"log","domain":[0.006,0.01,0.1,100],"range":[101,95,79,0],"nice":false},"axis":null},"strokeDash":{"field":"s","type":"nominal","scale":{"domain":["conventional EBV inoculation","EBV spinoculation"],"range":[[1,0],[2,2]]},"legend":null}}},
{"mark":{"type":"point","shape":"square","size":40,"stroke":"black","strokeWidth":1.1,"opacity":1,"filled":true},"encoding":{"x":{"field":"h","type":"quantitative","scale":{"type":"linear","domain":[0,96,144,169],"range":[0,90,107,116],"nice":false,"zero":false},"axis":{"orient":"bottom","title":"Hours post inoculation","values":[0,24,48,72,96,107,119,144],"labelExpr":"datum.value == 107 || datum.value == 119 ? '' : datum.label","domainDash":[94,3,60],"tickSize":3,"labelFontSize":8.5,"labelPadding":1,"titleFontSize":9,"titlePadding":3,"labelFlush":false,"labelOverlap":false}},"y":{"field":"v","type":"quantitative","scale":{"type":"log","domain":[0.006,0.01,0.1,100],"range":[101,95,79,0],"nice":false},"axis":{"orient":"left","title":"mRNA over HMBS","titleX":-20,"titleY":68.1,"titleAngle":270,"titleAlign":"left","titleBaseline":"middle","values":[0.01,0.1,1,10,100],"labelExpr":"toString(datum.value)","domainDash":[13,7,200],"tickSize":3,"labelFontSize":8,"labelPadding":1,"titleFontSize":8.5,"labelOverlap":false,"labelFlush":false}},"fill":{"field":"s","type":"nominal","scale":{"domain":["conventional EBV inoculation","EBV spinoculation"],"range":["black","white"]},"legend":null}}},
{"transform":[{"aggregate":[{"op":"count","as":"n"}]}],"mark":{"type":"point","opacity":0},"encoding":{"x":{"datum":0,"type":"quantitative","scale":{"domain":[0,1]},"axis":null},"y":{"datum":0.5,"type":"quantitative","scale":{"domain":[0,1]},"axis":{"orient":"left","domain":false,"ticks":false,"labels":false,"title":"EBNA1","titleFontStyle":"italic","titleFontSize":8.5,"titleAngle":270,"titleAlign":"left","titleBaseline":"middle","titleX":-20,"titleY":95.75}}}}
]},
{"width":116,"height":101,"transform":[{"filter":"datum.p == 'C1'"}],"resolve":{"scale":{"x":"independent","y":"independent"}},"layer":[
{"transform":[{"aggregate":[{"op":"count","as":"n"}]}],"mark":{"type":"rule","strokeDash":[5,4],"strokeWidth":1.1,"color":"black"},"encoding":{"y":{"datum":0.05,"type":"quantitative","scale":{"type":"log","domain":[0.006,0.01,0.1,100],"range":[101,95,79,0],"nice":false},"axis":null}}},
{"transform":[{"filter":"isValid(datum.lo)"}],"mark":{"type":"errorbar","color":"black","thickness":1,"ticks":{"size":6}},"encoding":{"x":{"field":"h","type":"quantitative","scale":{"type":"linear","domain":[0,96,144,169],"range":[0,90,107,116],"nice":false,"zero":false},"axis":null},"y":{"field":"lo","type":"quantitative","scale":{"type":"log","domain":[0.006,0.01,0.1,100],"range":[101,95,79,0],"nice":false},"axis":null},"y2":{"field":"hi"}}},
{"mark":{"type":"line","color":"black","strokeWidth":1.2},"encoding":{"x":{"field":"h","type":"quantitative","scale":{"type":"linear","domain":[0,96,144,169],"range":[0,90,107,116],"nice":false,"zero":false},"axis":null},"y":{"field":"v","type":"quantitative","scale":{"type":"log","domain":[0.006,0.01,0.1,100],"range":[101,95,79,0],"nice":false},"axis":null},"strokeDash":{"field":"s","type":"nominal","scale":{"domain":["conventional EBV inoculation","EBV spinoculation"],"range":[[1,0],[2,2]]},"legend":null}}},
{"mark":{"type":"point","shape":"square","size":40,"stroke":"black","strokeWidth":1.1,"opacity":1,"filled":true},"encoding":{"x":{"field":"h","type":"quantitative","scale":{"type":"linear","domain":[0,96,144,169],"range":[0,90,107,116],"nice":false,"zero":false},"axis":{"orient":"bottom","title":"Hours post inoculation","values":[0,24,48,72,96,107,119,144],"labelExpr":"datum.value == 107 || datum.value == 119 ? '' : datum.label","domainDash":[94,3,60],"tickSize":3,"labelFontSize":8.5,"labelPadding":1,"titleFontSize":9,"titlePadding":3,"labelFlush":false,"labelOverlap":false}},"y":{"field":"v","type":"quantitative","scale":{"type":"log","domain":[0.006,0.01,0.1,100],"range":[101,95,79,0],"nice":false},"axis":{"orient":"left","title":"mRNA over HMBS","titleX":-20,"titleY":70.3,"titleAngle":270,"titleAlign":"left","titleBaseline":"middle","values":[0.01,0.1,1,10,100],"labelExpr":"toString(datum.value)","domainDash":[13,7,200],"tickSize":3,"labelFontSize":8,"labelPadding":1,"titleFontSize":8.5,"labelOverlap":false,"labelFlush":false}},"fill":{"field":"s","type":"nominal","scale":{"domain":["conventional EBV inoculation","EBV spinoculation"],"range":["black","white"]},"legend":null}}},
{"transform":[{"aggregate":[{"op":"count","as":"n"}]}],"mark":{"type":"point","opacity":0},"encoding":{"x":{"datum":0,"type":"quantitative","scale":{"domain":[0,1]},"axis":{"orient":"top","domain":false,"ticks":false,"labels":false,"title":"LMP1","titleFontStyle":"italic","titleFontSize":8.5,"titleAngle":270,"titleAlign":"left","titleBaseline":"middle","titleX":-20,"titleY":93.6}},"y":{"datum":0.5,"type":"quantitative","scale":{"domain":[0,1]},"axis":{"orient":"left","domain":false,"ticks":false,"labels":false,"title":"C","titleAngle":0,"titleFontSize":22,"titleFontWeight":"bold","titleX":-51,"titleY":8,"titleAlign":"center","titleBaseline":"middle"}}}}
]},
{"width":116,"height":101,"transform":[{"filter":"datum.p == 'C2'"}],"resolve":{"scale":{"x":"independent","y":"independent"}},"layer":[
{"transform":[{"aggregate":[{"op":"count","as":"n"}]}],"mark":{"type":"rule","strokeDash":[5,4],"strokeWidth":1.1,"color":"black"},"encoding":{"y":{"datum":0.05,"type":"quantitative","scale":{"type":"log","domain":[0.006,0.01,0.1,100],"range":[101,95,79,0],"nice":false},"axis":null}}},
{"transform":[{"filter":"isValid(datum.lo)"}],"mark":{"type":"errorbar","color":"black","thickness":1,"ticks":{"size":6}},"encoding":{"x":{"field":"h","type":"quantitative","scale":{"type":"linear","domain":[0,96,144,169],"range":[0,90,107,116],"nice":false,"zero":false},"axis":null},"y":{"field":"lo","type":"quantitative","scale":{"type":"log","domain":[0.006,0.01,0.1,100],"range":[101,95,79,0],"nice":false},"axis":null},"y2":{"field":"hi"}}},
{"mark":{"type":"line","color":"black","strokeWidth":1.2},"encoding":{"x":{"field":"h","type":"quantitative","scale":{"type":"linear","domain":[0,96,144,169],"range":[0,90,107,116],"nice":false,"zero":false},"axis":null},"y":{"field":"v","type":"quantitative","scale":{"type":"log","domain":[0.006,0.01,0.1,100],"range":[101,95,79,0],"nice":false},"axis":null},"strokeDash":{"field":"s","type":"nominal","scale":{"domain":["conventional EBV inoculation","EBV spinoculation"],"range":[[1,0],[2,2]]},"legend":null}}},
{"mark":{"type":"point","shape":"square","size":40,"stroke":"black","strokeWidth":1.1,"opacity":1,"filled":true},"encoding":{"x":{"field":"h","type":"quantitative","scale":{"type":"linear","domain":[0,96,144,169],"range":[0,90,107,116],"nice":false,"zero":false},"axis":{"orient":"bottom","title":"Hours post inoculation","values":[0,24,48,72,96,107,119,144],"labelExpr":"datum.value == 107 || datum.value == 119 ? '' : datum.label","domainDash":[94,3,60],"tickSize":3,"labelFontSize":8.5,"labelPadding":1,"titleFontSize":9,"titlePadding":3,"labelFlush":false,"labelOverlap":false}},"y":{"field":"v","type":"quantitative","scale":{"type":"log","domain":[0.006,0.01,0.1,100],"range":[101,95,79,0],"nice":false},"axis":{"orient":"left","title":"mRNA over HMBS","titleX":-20,"titleY":70.3,"titleAngle":270,"titleAlign":"left","titleBaseline":"middle","values":[0.01,0.1,1,10,100],"labelExpr":"toString(datum.value)","domainDash":[13,7,200],"tickSize":3,"labelFontSize":8,"labelPadding":1,"titleFontSize":8.5,"labelOverlap":false,"labelFlush":false}},"fill":{"field":"s","type":"nominal","scale":{"domain":["conventional EBV inoculation","EBV spinoculation"],"range":["black","white"]},"legend":null}}},
{"transform":[{"aggregate":[{"op":"count","as":"n"}]}],"mark":{"type":"point","opacity":0},"encoding":{"x":{"datum":0,"type":"quantitative","scale":{"domain":[0,1]},"axis":null},"y":{"datum":0.5,"type":"quantitative","scale":{"domain":[0,1]},"axis":{"orient":"left","domain":false,"ticks":false,"labels":false,"title":"LMP1","titleFontStyle":"italic","titleFontSize":8.5,"titleAngle":270,"titleAlign":"left","titleBaseline":"middle","titleX":-20,"titleY":93.6}}}}
]},
{"width":116,"height":101,"transform":[{"filter":"datum.p == 'C3'"}],"resolve":{"scale":{"x":"independent","y":"independent"}},"layer":[
{"transform":[{"aggregate":[{"op":"count","as":"n"}]}],"mark":{"type":"rule","strokeDash":[5,4],"strokeWidth":1.1,"color":"black"},"encoding":{"y":{"datum":0.05,"type":"quantitative","scale":{"type":"log","domain":[0.006,0.01,0.1,100],"range":[101,95,79,0],"nice":false},"axis":null}}},
{"transform":[{"filter":"isValid(datum.lo)"}],"mark":{"type":"errorbar","color":"black","thickness":1,"ticks":{"size":6}},"encoding":{"x":{"field":"h","type":"quantitative","scale":{"type":"linear","domain":[0,96,144,169],"range":[0,90,107,116],"nice":false,"zero":false},"axis":null},"y":{"field":"lo","type":"quantitative","scale":{"type":"log","domain":[0.006,0.01,0.1,100],"range":[101,95,79,0],"nice":false},"axis":null},"y2":{"field":"hi"}}},
{"mark":{"type":"line","color":"black","strokeWidth":1.2},"encoding":{"x":{"field":"h","type":"quantitative","scale":{"type":"linear","domain":[0,96,144,169],"range":[0,90,107,116],"nice":false,"zero":false},"axis":null},"y":{"field":"v","type":"quantitative","scale":{"type":"log","domain":[0.006,0.01,0.1,100],"range":[101,95,79,0],"nice":false},"axis":null},"strokeDash":{"field":"s","type":"nominal","scale":{"domain":["conventional EBV inoculation","EBV spinoculation"],"range":[[1,0],[2,2]]},"legend":null}}},
{"mark":{"type":"point","shape":"square","size":40,"stroke":"black","strokeWidth":1.1,"opacity":1,"filled":true},"encoding":{"x":{"field":"h","type":"quantitative","scale":{"type":"linear","domain":[0,96,144,169],"range":[0,90,107,116],"nice":false,"zero":false},"axis":{"orient":"bottom","title":"Hours post inoculation","values":[0,24,48,72,96,107,119,144],"labelExpr":"datum.value == 107 || datum.value == 119 ? '' : datum.label","domainDash":[94,3,60],"tickSize":3,"labelFontSize":8.5,"labelPadding":1,"titleFontSize":9,"titlePadding":3,"labelFlush":false,"labelOverlap":false}},"y":{"field":"v","type":"quantitative","scale":{"type":"log","domain":[0.006,0.01,0.1,100],"range":[101,95,79,0],"nice":false},"axis":{"orient":"left","title":"mRNA over HMBS","titleX":-20,"titleY":70.3,"titleAngle":270,"titleAlign":"left","titleBaseline":"middle","values":[0.01,0.1,1,10,100],"labelExpr":"toString(datum.value)","domainDash":[13,7,200],"tickSize":3,"labelFontSize":8,"labelPadding":1,"titleFontSize":8.5,"labelOverlap":false,"labelFlush":false}},"fill":{"field":"s","type":"nominal","scale":{"domain":["conventional EBV inoculation","EBV spinoculation"],"range":["black","white"]},"legend":null}}},
{"transform":[{"aggregate":[{"op":"count","as":"n"}]}],"mark":{"type":"point","opacity":0},"encoding":{"x":{"datum":0,"type":"quantitative","scale":{"domain":[0,1]},"axis":null},"y":{"datum":0.5,"type":"quantitative","scale":{"domain":[0,1]},"axis":{"orient":"left","domain":false,"ticks":false,"labels":false,"title":"LMP1","titleFontStyle":"italic","titleFontSize":8.5,"titleAngle":270,"titleAlign":"left","titleBaseline":"middle","titleX":-20,"titleY":93.6}}}}
]},
{"width":116,"height":101,"transform":[{"filter":"datum.p == 'C4'"}],"resolve":{"scale":{"x":"independent","y":"independent"}},"layer":[
{"transform":[{"aggregate":[{"op":"count","as":"n"}]}],"mark":{"type":"rule","strokeDash":[5,4],"strokeWidth":1.1,"color":"black"},"encoding":{"y":{"datum":0.05,"type":"quantitative","scale":{"type":"log","domain":[0.006,0.01,0.1,100],"range":[101,95,79,0],"nice":false},"axis":null}}},
{"transform":[{"filter":"isValid(datum.lo)"}],"mark":{"type":"errorbar","color":"black","thickness":1,"ticks":{"size":6}},"encoding":{"x":{"field":"h","type":"quantitative","scale":{"type":"linear","domain":[0,96,144,169],"range":[0,90,107,116],"nice":false,"zero":false},"axis":null},"y":{"field":"lo","type":"quantitative","scale":{"type":"log","domain":[0.006,0.01,0.1,100],"range":[101,95,79,0],"nice":false},"axis":null},"y2":{"field":"hi"}}},
{"mark":{"type":"line","color":"black","strokeWidth":1.2},"encoding":{"x":{"field":"h","type":"quantitative","scale":{"type":"linear","domain":[0,96,144,169],"range":[0,90,107,116],"nice":false,"zero":false},"axis":null},"y":{"field":"v","type":"quantitative","scale":{"type":"log","domain":[0.006,0.01,0.1,100],"range":[101,95,79,0],"nice":false},"axis":null},"strokeDash":{"field":"s","type":"nominal","scale":{"domain":["conventional EBV inoculation","EBV spinoculation"],"range":[[1,0],[2,2]]},"legend":null}}},
{"mark":{"type":"point","shape":"square","size":40,"stroke":"black","strokeWidth":1.1,"opacity":1,"filled":true},"encoding":{"x":{"field":"h","type":"quantitative","scale":{"type":"linear","domain":[0,96,144,169],"range":[0,90,107,116],"nice":false,"zero":false},"axis":{"orient":"bottom","title":"Hours post inoculation","values":[0,24,48,72,96,107,119,144],"labelExpr":"datum.value == 107 || datum.value == 119 ? '' : datum.label","domainDash":[94,3,60],"tickSize":3,"labelFontSize":8.5,"labelPadding":1,"titleFontSize":9,"titlePadding":3,"labelFlush":false,"labelOverlap":false}},"y":{"field":"v","type":"quantitative","scale":{"type":"log","domain":[0.006,0.01,0.1,100],"range":[101,95,79,0],"nice":false},"axis":{"orient":"left","title":"mRNA over HMBS","titleX":-20,"titleY":70.3,"titleAngle":270,"titleAlign":"left","titleBaseline":"middle","values":[0.01,0.1,1,10,100],"labelExpr":"toString(datum.value)","domainDash":[13,7,200],"tickSize":3,"labelFontSize":8,"labelPadding":1,"titleFontSize":8.5,"labelOverlap":false,"labelFlush":false}},"fill":{"field":"s","type":"nominal","scale":{"domain":["conventional EBV inoculation","EBV spinoculation"],"range":["black","white"]},"legend":null}}},
{"transform":[{"aggregate":[{"op":"count","as":"n"}]}],"mark":{"type":"point","opacity":0},"encoding":{"x":{"datum":0,"type":"quantitative","scale":{"domain":[0,1]},"axis":null},"y":{"datum":0.5,"type":"quantitative","scale":{"domain":[0,1]},"axis":{"orient":"left","domain":false,"ticks":false,"labels":false,"title":"LMP1","titleFontStyle":"italic","titleFontSize":8.5,"titleAngle":270,"titleAlign":"left","titleBaseline":"middle","titleX":-20,"titleY":93.6}}}}
]},
{"width":116,"height":100,"transform":[{"filter":"datum.p == 'D1'"}],"resolve":{"scale":{"x":"independent","y":"independent"}},"layer":[
{"transform":[{"aggregate":[{"op":"count","as":"n"}]}],"mark":{"type":"rule","strokeDash":[5,4],"strokeWidth":1.1,"color":"black"},"encoding":{"y":{"datum":0.03,"type":"quantitative","scale":{"type":"log","domain":[0.006,0.01,0.1,10],"range":[100,95,70,0],"nice":false},"axis":null}}},
{"transform":[{"filter":"isValid(datum.lo)"}],"mark":{"type":"errorbar","color":"black","thickness":1,"ticks":{"size":6}},"encoding":{"x":{"field":"h","type":"quantitative","scale":{"type":"linear","domain":[0,96,144,169],"range":[0,90,107,116],"nice":false,"zero":false},"axis":null},"y":{"field":"lo","type":"quantitative","scale":{"type":"log","domain":[0.006,0.01,0.1,10],"range":[100,95,70,0],"nice":false},"axis":null},"y2":{"field":"hi"}}},
{"mark":{"type":"line","color":"black","strokeWidth":1.2},"encoding":{"x":{"field":"h","type":"quantitative","scale":{"type":"linear","domain":[0,96,144,169],"range":[0,90,107,116],"nice":false,"zero":false},"axis":null},"y":{"field":"v","type":"quantitative","scale":{"type":"log","domain":[0.006,0.01,0.1,10],"range":[100,95,70,0],"nice":false},"axis":null},"strokeDash":{"field":"s","type":"nominal","scale":{"domain":["conventional EBV inoculation","EBV spinoculation"],"range":[[1,0],[2,2]]},"legend":null}}},
{"mark":{"type":"point","shape":"square","size":40,"stroke":"black","strokeWidth":1.1,"opacity":1,"filled":true},"encoding":{"x":{"field":"h","type":"quantitative","scale":{"type":"linear","domain":[0,96,144,169],"range":[0,90,107,116],"nice":false,"zero":false},"axis":{"orient":"bottom","title":"Hours post inoculation","values":[0,24,48,72,96,107,119,144],"labelExpr":"datum.value == 107 || datum.value == 119 ? '' : datum.label","domainDash":[94,3,60],"tickSize":3,"labelFontSize":8.5,"labelPadding":1,"titleFontSize":9,"titlePadding":3,"labelFlush":false,"labelOverlap":false}},"y":{"field":"v","type":"quantitative","scale":{"type":"log","domain":[0.006,0.01,0.1,10],"range":[100,95,70,0],"nice":false},"axis":{"orient":"left","title":"mRNA over HMBS","titleX":-20,"titleY":69.8,"titleAngle":270,"titleAlign":"left","titleBaseline":"middle","values":[0.01,0.1,1,10],"labelExpr":"toString(datum.value)","domainDash":[14,10,200],"tickSize":3,"labelFontSize":8,"labelPadding":1,"titleFontSize":8.5,"labelOverlap":false,"labelFlush":false}},"fill":{"field":"s","type":"nominal","scale":{"domain":["conventional EBV inoculation","EBV spinoculation"],"range":["black","white"]},"legend":{"orient":"none","legendX":11,"legendY":131,"title":null,"symbolType":"M-1,0H-0.5M0.5,0H1M-0.5,-0.5H0.5V0.5H-0.5Z","symbolSize":144,"symbolStrokeColor":"black","symbolStrokeWidth":1.1,"labelFontSize":13,"labelFont":"Liberation Serif","labelColor":"black","rowPadding":0,"labelOffset":5}}}},
{"transform":[{"aggregate":[{"op":"count","as":"n"}]}],"mark":{"type":"point","opacity":0},"encoding":{"x":{"datum":0,"type":"quantitative","scale":{"domain":[0,1]},"axis":{"orient":"top","domain":false,"ticks":false,"labels":false,"title":"LMP2","titleFontStyle":"italic","titleFontSize":8.5,"titleAngle":270,"titleAlign":"left","titleBaseline":"middle","titleX":-20,"titleY":93.1}},"y":{"datum":0.5,"type":"quantitative","scale":{"domain":[0,1]},"axis":{"orient":"left","domain":false,"ticks":false,"labels":false,"title":"D","titleAngle":0,"titleFontSize":22,"titleFontWeight":"bold","titleX":-51,"titleY":8,"titleAlign":"center","titleBaseline":"middle"}}}}
]},
{"width":116,"height":100,"transform":[{"filter":"datum.p == 'D2'"}],"resolve":{"scale":{"x":"independent","y":"independent"}},"layer":[
{"transform":[{"aggregate":[{"op":"count","as":"n"}]}],"mark":{"type":"rule","strokeDash":[5,4],"strokeWidth":1.1,"color":"black"},"encoding":{"y":{"datum":0.03,"type":"quantitative","scale":{"type":"log","domain":[0.006,0.01,0.1,10],"range":[100,95,70,0],"nice":false},"axis":null}}},
{"transform":[{"filter":"isValid(datum.lo)"}],"mark":{"type":"errorbar","color":"black","thickness":1,"ticks":{"size":6}},"encoding":{"x":{"field":"h","type":"quantitative","scale":{"type":"linear","domain":[0,96,144,169],"range":[0,90,107,116],"nice":false,"zero":false},"axis":null},"y":{"field":"lo","type":"quantitative","scale":{"type":"log","domain":[0.006,0.01,0.1,10],"range":[100,95,70,0],"nice":false},"axis":null},"y2":{"field":"hi"}}},
{"mark":{"type":"line","color":"black","strokeWidth":1.2},"encoding":{"x":{"field":"h","type":"quantitative","scale":{"type":"linear","domain":[0,96,144,169],"range":[0,90,107,116],"nice":false,"zero":false},"axis":null},"y":{"field":"v","type":"quantitative","scale":{"type":"log","domain":[0.006,0.01,0.1,10],"range":[100,95,70,0],"nice":false},"axis":null},"strokeDash":{"field":"s","type":"nominal","scale":{"domain":["conventional EBV inoculation","EBV spinoculation"],"range":[[1,0],[2,2]]},"legend":null}}},
{"mark":{"type":"point","shape":"square","size":40,"stroke":"black","strokeWidth":1.1,"opacity":1,"filled":true},"encoding":{"x":{"field":"h","type":"quantitative","scale":{"type":"linear","domain":[0,96,144,169],"range":[0,90,107,116],"nice":false,"zero":false},"axis":{"orient":"bottom","title":"Hours post inoculation","values":[0,24,48,72,96,107,119,144],"labelExpr":"datum.value == 107 || datum.value == 119 ? '' : datum.label","domainDash":[94,3,60],"tickSize":3,"labelFontSize":8.5,"labelPadding":1,"titleFontSize":9,"titlePadding":3,"labelFlush":false,"labelOverlap":false}},"y":{"field":"v","type":"quantitative","scale":{"type":"log","domain":[0.006,0.01,0.1,10],"range":[100,95,70,0],"nice":false},"axis":{"orient":"left","title":"mRNA over HMBS","titleX":-20,"titleY":69.8,"titleAngle":270,"titleAlign":"left","titleBaseline":"middle","values":[0.01,0.1,1,10],"labelExpr":"toString(datum.value)","domainDash":[14,10,200],"tickSize":3,"labelFontSize":8,"labelPadding":1,"titleFontSize":8.5,"labelOverlap":false,"labelFlush":false}},"fill":{"field":"s","type":"nominal","scale":{"domain":["conventional EBV inoculation","EBV spinoculation"],"range":["black","white"]},"legend":null}}},
{"transform":[{"aggregate":[{"op":"count","as":"n"}]}],"mark":{"type":"point","opacity":0},"encoding":{"x":{"datum":0,"type":"quantitative","scale":{"domain":[0,1]},"axis":null},"y":{"datum":0.5,"type":"quantitative","scale":{"domain":[0,1]},"axis":{"orient":"left","domain":false,"ticks":false,"labels":false,"title":"LMP2","titleFontStyle":"italic","titleFontSize":8.5,"titleAngle":270,"titleAlign":"left","titleBaseline":"middle","titleX":-20,"titleY":93.1}}}}
]},
{"width":116,"height":100,"transform":[{"filter":"datum.p == 'D3'"}],"resolve":{"scale":{"x":"independent","y":"independent"}},"layer":[
{"transform":[{"aggregate":[{"op":"count","as":"n"}]}],"mark":{"type":"rule","strokeDash":[5,4],"strokeWidth":1.1,"color":"black"},"encoding":{"y":{"datum":0.03,"type":"quantitative","scale":{"type":"log","domain":[0.006,0.01,0.1,10],"range":[100,95,70,0],"nice":false},"axis":null}}},
{"transform":[{"filter":"isValid(datum.lo)"}],"mark":{"type":"errorbar","color":"black","thickness":1,"ticks":{"size":6}},"encoding":{"x":{"field":"h","type":"quantitative","scale":{"type":"linear","domain":[0,96,144,169],"range":[0,90,107,116],"nice":false,"zero":false},"axis":null},"y":{"field":"lo","type":"quantitative","scale":{"type":"log","domain":[0.006,0.01,0.1,10],"range":[100,95,70,0],"nice":false},"axis":null},"y2":{"field":"hi"}}},
{"mark":{"type":"line","color":"black","strokeWidth":1.2},"encoding":{"x":{"field":"h","type":"quantitative","scale":{"type":"linear","domain":[0,96,144,169],"range":[0,90,107,116],"nice":false,"zero":false},"axis":null},"y":{"field":"v","type":"quantitative","scale":{"type":"log","domain":[0.006,0.01,0.1,10],"range":[100,95,70,0],"nice":false},"axis":null},"strokeDash":{"field":"s","type":"nominal","scale":{"domain":["conventional EBV inoculation","EBV spinoculation"],"range":[[1,0],[2,2]]},"legend":null}}},
{"mark":{"type":"point","shape":"square","size":40,"stroke":"black","strokeWidth":1.1,"opacity":1,"filled":true},"encoding":{"x":{"field":"h","type":"quantitative","scale":{"type":"linear","domain":[0,96,144,169],"range":[0,90,107,116],"nice":false,"zero":false},"axis":{"orient":"bottom","title":"Hours post inoculation","values":[0,24,48,72,96,107,119,144],"labelExpr":"datum.value == 107 || datum.value == 119 ? '' : datum.label","domainDash":[94,3,60],"tickSize":3,"labelFontSize":8.5,"labelPadding":1,"titleFontSize":9,"titlePadding":3,"labelFlush":false,"labelOverlap":false}},"y":{"field":"v","type":"quantitative","scale":{"type":"log","domain":[0.006,0.01,0.1,10],"range":[100,95,70,0],"nice":false},"axis":{"orient":"left","title":"mRNA over HMBS","titleX":-20,"titleY":69.8,"titleAngle":270,"titleAlign":"left","titleBaseline":"middle","values":[0.01,0.1,1,10],"labelExpr":"toString(datum.value)","domainDash":[14,10,200],"tickSize":3,"labelFontSize":8,"labelPadding":1,"titleFontSize":8.5,"labelOverlap":false,"labelFlush":false}},"fill":{"field":"s","type":"nominal","scale":{"domain":["conventional EBV inoculation","EBV spinoculation"],"range":["black","white"]},"legend":null}}},
{"transform":[{"aggregate":[{"op":"count","as":"n"}]}],"mark":{"type":"point","opacity":0},"encoding":{"x":{"datum":0,"type":"quantitative","scale":{"domain":[0,1]},"axis":null},"y":{"datum":0.5,"type":"quantitative","scale":{"domain":[0,1]},"axis":{"orient":"left","domain":false,"ticks":false,"labels":false,"title":"LMP2","titleFontStyle":"italic","titleFontSize":8.5,"titleAngle":270,"titleAlign":"left","titleBaseline":"middle","titleX":-20,"titleY":93.1}}}}
]},
{"width":116,"height":100,"transform":[{"filter":"datum.p == 'D4'"}],"resolve":{"scale":{"x":"independent","y":"independent"}},"layer":[
{"transform":[{"aggregate":[{"op":"count","as":"n"}]}],"mark":{"type":"rule","strokeDash":[5,4],"strokeWidth":1.1,"color":"black"},"encoding":{"y":{"datum":0.03,"type":"quantitative","scale":{"type":"log","domain":[0.006,0.01,0.1,10],"range":[100,95,70,0],"nice":false},"axis":null}}},
{"transform":[{"filter":"isValid(datum.lo)"}],"mark":{"type":"errorbar","color":"black","thickness":1,"ticks":{"size":6}},"encoding":{"x":{"field":"h","type":"quantitative","scale":{"type":"linear","domain":[0,96,144,169],"range":[0,90,107,116],"nice":false,"zero":false},"axis":null},"y":{"field":"lo","type":"quantitative","scale":{"type":"log","domain":[0.006,0.01,0.1,10],"range":[100,95,70,0],"nice":false},"axis":null},"y2":{"field":"hi"}}},
{"mark":{"type":"line","color":"black","strokeWidth":1.2},"encoding":{"x":{"field":"h","type":"quantitative","scale":{"type":"linear","domain":[0,96,144,169],"range":[0,90,107,116],"nice":false,"zero":false},"axis":null},"y":{"field":"v","type":"quantitative","scale":{"type":"log","domain":[0.006,0.01,0.1,10],"range":[100,95,70,0],"nice":false},"axis":null},"strokeDash":{"field":"s","type":"nominal","scale":{"domain":["conventional EBV inoculation","EBV spinoculation"],"range":[[1,0],[2,2]]},"legend":null}}},
{"mark":{"type":"point","shape":"square","size":40,"stroke":"black","strokeWidth":1.1,"opacity":1,"filled":true},"encoding":{"x":{"field":"h","type":"quantitative","scale":{"type":"linear","domain":[0,96,144,169],"range":[0,90,107,116],"nice":false,"zero":false},"axis":{"orient":"bottom","title":"Hours post inoculation","values":[0,24,48,72,96,107,119,144],"labelExpr":"datum.value == 107 || datum.value == 119 ? '' : datum.label","domainDash":[94,3,60],"tickSize":3,"labelFontSize":8.5,"labelPadding":1,"titleFontSize":9,"titlePadding":3,"labelFlush":false,"labelOverlap":false}},"y":{"field":"v","type":"quantitative","scale":{"type":"log","domain":[0.006,0.01,0.1,10],"range":[100,95,70,0],"nice":false},"axis":{"orient":"left","title":"mRNA over HMBS","titleX":-20,"titleY":69.8,"titleAngle":270,"titleAlign":"left","titleBaseline":"middle","values":[0.01,0.1,1,10],"labelExpr":"toString(datum.value)","domainDash":[14,10,200],"tickSize":3,"labelFontSize":8,"labelPadding":1,"titleFontSize":8.5,"labelOverlap":false,"labelFlush":false}},"fill":{"field":"s","type":"nominal","scale":{"domain":["conventional EBV inoculation","EBV spinoculation"],"range":["black","white"]},"legend":null}}},
{"transform":[{"aggregate":[{"op":"count","as":"n"}]}],"mark":{"type":"point","opacity":0},"encoding":{"x":{"datum":0,"type":"quantitative","scale":{"domain":[0,1]},"axis":null},"y":{"datum":0.5,"type":"quantitative","scale":{"domain":[0,1]},"axis":{"orient":"left","domain":false,"ticks":false,"labels":false,"title":"LMP2","titleFontStyle":"italic","titleFontSize":8.5,"titleAngle":270,"titleAlign":"left","titleBaseline":"middle","titleX":-20,"titleY":93.1}}}}
]}
],
"config": {
"view": {"stroke": null},
"font": "Liberation Serif",
"axis": {"labelFont": "Liberation Serif", "titleFont": "Liberation Serif", "labelColor": "black", "titleColor": "black", "domainColor": "black", "tickColor": "black", "titleFontWeight": "normal", "grid": false, "domainWidth": 1, "tickWidth": 1},
"legend": {"labelFont": "Liberation Serif", "labelColor": "black"}
}
}
